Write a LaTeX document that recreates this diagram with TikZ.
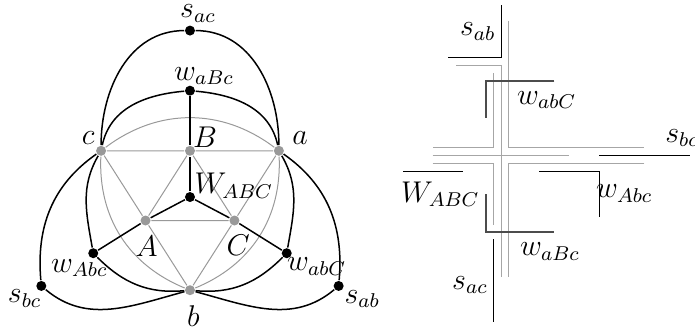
\documentclass[tikz,border=0pt]{standalone}
\begin{document}
\begin{tikzpicture}[semithick, font=\large,
		dot/.style={circle, fill=black, inner sep=0pt, minimum size=4pt},
		gdot/.style={dot, fill=black!40},
		lab/.style={inner sep=1pt},
		grey/.style={black!40, thin},
		road/.style={black!35, thin},
		wire/.style={black!70, thick}]
	\useasboundingbox (-2.671,-1.856) rectangle (7.100,2.770);

	% left picture: the graph
	\node[gdot] (a) at (1.25,0.65) {};
	\node[gdot] (c) at (-1.25,0.65) {};
	\node[gdot] (b) at (0,-1.31) {};
	\node[gdot] (B) at (0,0.65) {};
	\node[gdot] (A) at (-0.625,-0.33) {};
	\node[gdot] (C) at (0.625,-0.33) {};
	\node[dot] (W) at (0,0) {};
	\node[dot] (wB) at (0,1.495) {};
	\node[dot] (sac) at (0,2.34) {};
	\node[dot] (wA) at (-1.36,-0.79) {};
	\node[dot] (wC) at (1.36,-0.79) {};
	\node[dot] (sbc) at (-2.09,-1.25) {};
	\node[dot] (sab) at (2.09,-1.25) {};

	% grey triangle, its midpoints and the arcs round it
	\draw[grey] (c) -- (B) -- (a) -- (C) -- (b) -- (A) -- (c);
	\draw[grey] (A) -- (B) -- (C) -- (A);
	\draw[grey] (c) to[bend left=37] (a);
	\draw[grey] (a) to[bend left=35] (b);
	\draw[grey] (b) to[bend left=35] (c);

	% black edges
	\draw (W) -- (B) -- (wB);
	\draw (W) -- (A) -- (wA);
	\draw (W) -- (C) -- (wC);
	\draw (sac) to[out=180, in=90] (c);
	\draw (sac) to[out=0, in=90] (a);
	\draw (wB) to[out=185, in=78] (c);
	\draw (wB) to[out=-5, in=102] (a);
	\draw (sbc) to[out=95, in=215] (c);
	\draw (sbc) to[out=-40, in=195] (b);
	\draw (sab) to[out=85, in=-35] (a);
	\draw (sab) to[out=220, in=-15] (b);
	\draw (wA) to[out=100, in=240] (c);
	\draw (wA) to[out=-45, in=185] (b);
	\draw (wC) to[out=80, in=-60] (a);
	\draw (wC) to[out=225, in=-5] (b);

	\node[lab] (lsac) at (0.112,2.58) {$s_{ac}$};
	\node[lab] (lwB) at (0.197,1.70) {$w_{aBc}$};
	\node[lab] (lc) at (-1.43,0.825) {$c$};
	\node[lab] (la) at (1.547,0.825) {$a$};
	\node[lab] (lB) at (0.211,0.834) {$B$};
	\node[lab] (lW) at (0.616,0.159) {$W_{ABC}$};
	\node[lab] (lA) at (-0.609,-0.699) {$A$};
	\node[lab] (lC) at (0.679,-0.675) {$C$};
	\node[lab] (lwA) at (-1.556,-0.998) {$w_{Abc}$};
	\node[lab] (lwC) at (1.781,-0.980) {$w_{abC}$};
	\node[lab] (lsbc) at (-2.325,-1.425) {$s_{bc}$};
	\node[lab] (lsab) at (2.423,-1.434) {$s_{ab}$};
	\node[lab] (lb) at (0.047,-1.673) {$b$};

	% right picture: the crossing
	\draw[road] (3.740,1.846) -- (4.373,1.846) -- (4.373,-1.121);
	\draw[road] (3.412,0.581) -- (5.329,0.581);
	\draw[road] (4.475,2.479) -- (4.475,0.693) -- (6.387,0.693);
	\draw[road] (4.264,1.739) -- (4.264,0.693) -- (3.412,0.693);
	\draw[road] (3.412,0.474) -- (4.264,0.474) -- (4.264,-0.394);
	\draw[road] (6.387,0.474) -- (4.475,0.474) -- (4.475,-1.121);

	\draw[thin] (3.632,1.959) -- (4.380,1.959) -- (4.380,2.700);
	\draw[wire] (5.122,1.635) -- (4.158,1.635) -- (4.158,1.115);
	\draw[wire] (4.158,0.038) -- (4.158,-0.488) -- (5.122,-0.488);
	\draw[thin] (4.907,0.356) -- (5.755,0.356) -- (5.755,-0.277);
	\draw[thin] (4.264,-0.595) -- (4.264,-1.753);
	\draw[thin] (2.999,0.356) -- (3.843,0.356);
	\draw[thin] (5.751,0.581) -- (7.030,0.581);

	\node[lab] (rsab) at (4.046,2.324) {$s_{ab}$};
	\node[lab] (rwC) at (5.015,1.364) {$w_{abC}$};
	\node[lab] (rsbc) at (6.918,0.830) {$s_{bc}$};
	\node[lab] (rW) at (3.519,0.042) {$W_{ABC}$};
	\node[lab] (rwA) at (6.105,0.052) {$w_{Abc}$};
	\node[lab] (rwB) at (5.062,-0.769) {$w_{aBc}$};
	\node[lab] (rsac) at (3.937,-1.237) {$s_{ac}$};
\end{tikzpicture}
\end{document}
